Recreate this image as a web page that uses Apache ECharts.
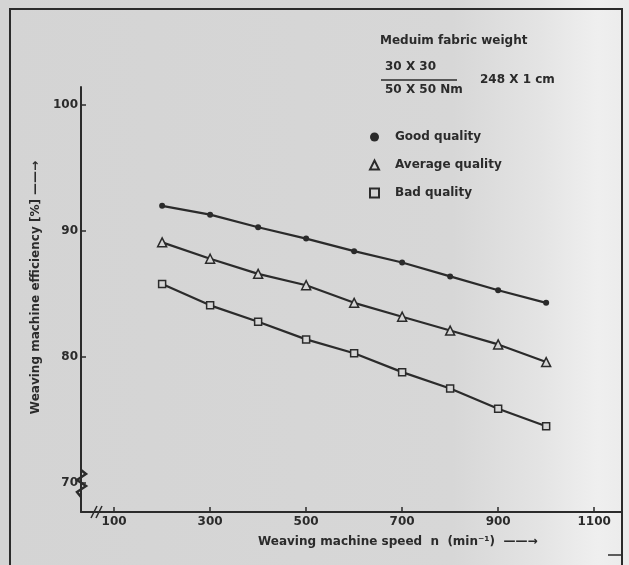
<!DOCTYPE html>
<html>
<head>
<meta charset="utf-8">
<title>Weaving machine efficiency</title>
<script src="https://cdn.jsdelivr.net/npm/echarts@6/dist/echarts.min.js"></script>
<style>
  html, body { margin: 0; padding: 0; }
  body {
    width: 629px;
    height: 565px;
    background: linear-gradient(to right, #d4d4d4 0%, #d7d7d7 72%, #e4e4e4 86%, #efefef 95%, #ebebeb 100%);
  }
  #chart { width: 629px; height: 565px; }
</style>
</head>
<body>
<div id="chart"></div>
<script>
// data
const speeds = [200, 300, 400, 500, 600, 700, 800, 900, 1000]
const goodQuality = [92.0, 91.3, 90.3, 89.4, 88.4, 87.5, 86.4, 85.3, 84.3]
const averageQuality = [89.1, 87.8, 86.6, 85.7, 84.3, 83.2, 82.1, 81.0, 79.6]
const badQuality = [85.8, 84.1, 82.8, 81.4, 80.3, 78.8, 77.5, 75.9, 74.5]

const xTicks = [100, 300, 500, 700, 900, 1100]
const yTicks = [70, 80, 90, 100]

const ink = '#2b2b2b'
const paper = '#d6d6d6'
const font = 'DejaVu Sans'

function pairs(ys) {
  return speeds.map((x, i) => [x, ys[i]])
}

function lineSeries(name, ys, symbol, size, filled) {
  return {
    name: name,
    type: 'line',
    data: pairs(ys),
    symbol: symbol,
    symbolSize: size,
    lineStyle: { color: ink, width: 2.2 },
    itemStyle: {
      color: filled ? ink : paper,
      borderColor: ink,
      borderWidth: filled ? 0 : 1.5,
    },
    emphasis: { disabled: true },
    z: 3,
  }
}

const myChart = echarts.init(document.getElementById('chart'), null, { renderer: 'canvas' })

const options = {
  animation: false,
  backgroundColor: 'transparent',
  textStyle: { fontFamily: font, color: ink },
  grid: {
    left: 81,
    right: 7,
    top: 87,
    bottom: 53,
  },
  xAxis: {
    type: 'value',
    min: 31,
    max: 1158,
    splitLine: { show: false },
    axisLine: { lineStyle: { color: ink, width: 2 } },
    axisTick: {
      inside: true,
      length: 5,
      customValues: xTicks,
      lineStyle: { color: ink, width: 1.5 },
    },
    axisLabel: {
      customValues: xTicks,
      formatter: (v) => String(v),
      color: ink,
      fontFamily: font,
      fontWeight: 'bold',
      fontSize: 12,
      margin: 4,
    },
  },
  yAxis: {
    type: 'value',
    min: 67.7,
    max: 101.43,
    splitLine: { show: false },
    axisLine: { show: true, lineStyle: { color: ink, width: 2 } },
    axisTick: {
      inside: true,
      length: 5,
      customValues: yTicks,
      lineStyle: { color: ink, width: 1.5 },
    },
    axisLabel: {
      customValues: yTicks,
      formatter: (v) => String(v),
      color: ink,
      fontFamily: font,
      fontWeight: 'bold',
      fontSize: 12,
      margin: 3,
    },
    name: 'Weaving machine efficiency [%] \u2014\u2014\u2192',
    nameLocation: 'middle',
    nameRotate: 90,
    nameGap: 38,
    nameTextStyle: {
      color: ink,
      fontFamily: font,
      fontWeight: 'bold',
      fontSize: 12,
      padding: [0, 0, 0, 24],
    },
  },
  legend: {
    orient: 'vertical',
    left: 364,
    top: 126,
    itemWidth: 9,
    itemHeight: 9,
    itemGap: 16,
    selectedMode: false,
    textStyle: {
      color: ink,
      fontFamily: font,
      fontWeight: 'bold',
      fontSize: 12,
      padding: [0, 0, 0, 11],
    },
    data: [
      { name: 'Good quality', icon: 'circle', itemStyle: { color: ink } },
      { name: 'Average quality', icon: 'triangle' },
      { name: 'Bad quality', icon: 'rect' },
    ],
  },
  series: [
    lineSeries('Good quality', goodQuality, 'circle', 6, true),
    lineSeries('Average quality', averageQuality, 'triangle', 9, false),
    lineSeries('Bad quality', badQuality, 'rect', 7, false),
  ],
  graphic: [
    // outer frame of the scanned figure
    {
      type: 'rect',
      shape: { x: 10, y: 9, width: 612, height: 570 },
      style: { fill: 'transparent', stroke: ink, lineWidth: 2 },
      silent: true,
    },
    {
      type: 'line',
      shape: { x1: 608, y1: 555, x2: 622, y2: 555 },
      style: { stroke: ink, lineWidth: 1.5 },
      silent: true,
    },
    // axis break marks
    {
      type: 'polyline',
      shape: { points: [[81, 470], [86, 474], [77, 480], [86, 486], [77, 492], [81, 497]] },
      style: { stroke: ink, lineWidth: 2.5, fill: null },
      silent: true,
    },
    {
      type: 'line',
      shape: { x1: 91, y1: 518, x2: 97, y2: 506 },
      style: { stroke: ink, lineWidth: 1.5 },
      silent: true,
    },
    {
      type: 'line',
      shape: { x1: 96, y1: 518, x2: 102, y2: 506 },
      style: { stroke: ink, lineWidth: 1.5 },
      silent: true,
    },
    // header notes
    {
      type: 'text',
      left: 380,
      top: 35,
      style: { text: 'Meduim fabric weight', fill: ink, font: 'bold 12px DejaVu Sans' },
    },
    {
      type: 'text',
      left: 385,
      top: 61,
      style: { text: '30 X 30', fill: ink, font: 'bold 12px DejaVu Sans' },
    },
    {
      type: 'line',
      shape: { x1: 381, y1: 80, x2: 457, y2: 80 },
      style: { stroke: ink, lineWidth: 1.5 },
      silent: true,
    },
    {
      type: 'text',
      left: 385,
      top: 84,
      style: { text: '50 X 50 Nm', fill: ink, font: 'bold 12px DejaVu Sans' },
    },
    {
      type: 'text',
      left: 480,
      top: 74,
      style: { text: '248 X 1 cm', fill: ink, font: 'bold 12px DejaVu Sans' },
    },
    // x axis title with arrow
    {
      type: 'text',
      left: 258,
      top: 536,
      style: { text: 'Weaving machine speed  n  (min\u207B\u00B9)  \u2014\u2014\u2192', fill: ink, font: 'bold 12px DejaVu Sans' },
    },
  ],
}

myChart.setOption(options)
</script>
</body>
</html>
